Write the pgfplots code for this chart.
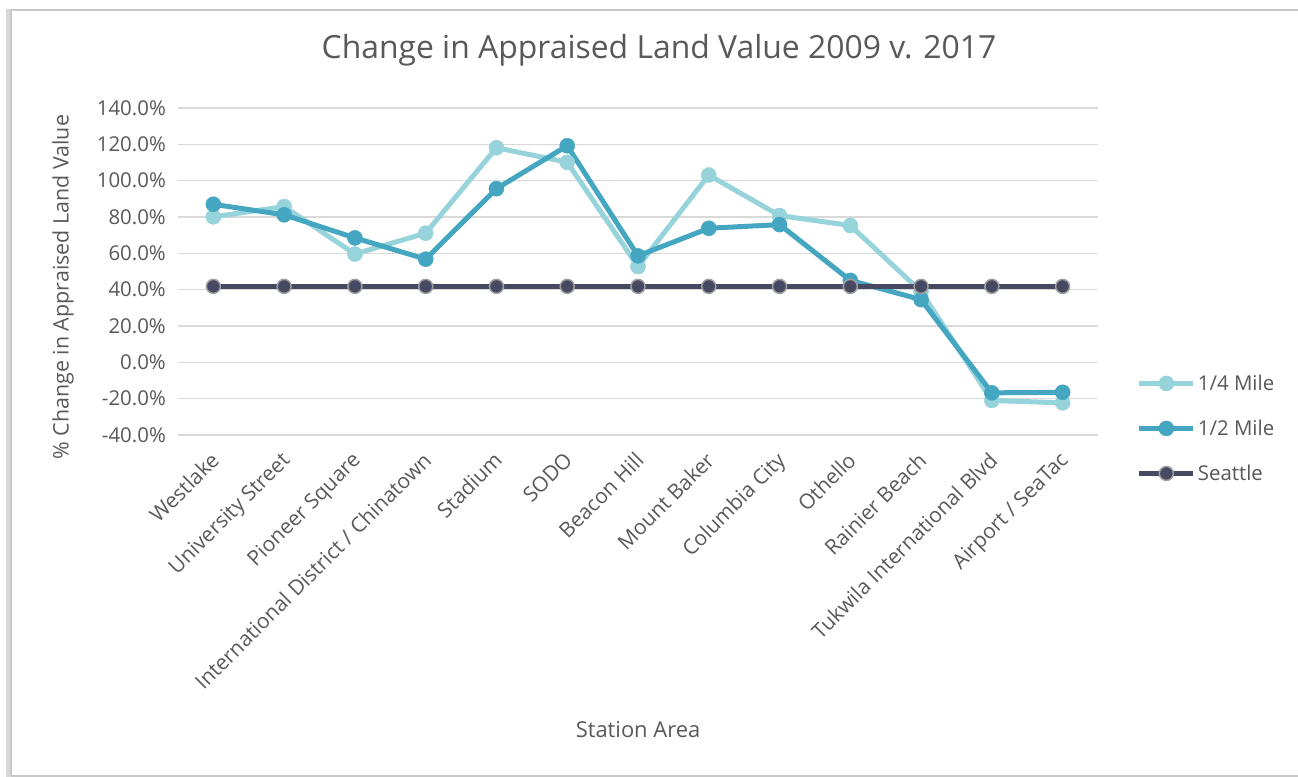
\documentclass[border=0pt]{standalone}
\usepackage{fontspec}
\setmainfont{Open Sans}
\usepackage{pgfplots}
\pgfplotsset{compat=1.18}
\definecolor{quarter}{HTML}{96D3DA}
\definecolor{half}{HTML}{44A6C0}
\definecolor{seattle}{HTML}{474862}
\definecolor{txt}{HTML}{595959}
\definecolor{gridc}{HTML}{D9D9D9}
\definecolor{framec}{HTML}{C8C8C8}
\begin{document}
\begin{tikzpicture}[x=1bp,y=1bp]
\useasboundingbox (0,0) rectangle (1298,777);
\fill[white] (0,0) rectangle (1298,777);
\fill[framec!70] (6,0) rectangle (12,768);
\draw[framec,line width=2bp] (11,1) -- (11,767) -- (1298,767);
\draw[framec,line width=2bp] (11,1) -- (1298,1);
\node[txt,font=\fontsize{32}{38}\selectfont] at (659,727) {Change in Appraised Land Value 2009 v. 2017};
\begin{axis}[
  at={(178bp,342bp)}, anchor=south west,
  scale only axis, width=920bp, height=327bp,
  xmin=-0.5, xmax=12.5, ymin=-40, ymax=140,
  ytick={-40,-20,...,140},
  yticklabel={\pgfmathprintnumber[fixed,fixed zerofill,precision=1]{\tick}\%},
  /pgf/number format/assume math mode=true,
  xtick={0,...,12},
  xticklabels={Westlake,University Street,Pioneer Square,International District / Chinatown,Stadium,SODO,Beacon Hill,Mount Baker,Columbia City,Othello,Rainier Beach,Tukwila International Blvd,Airport / SeaTac},
  xticklabel style={rotate=45, anchor=north east, inner sep=0pt, font=\fontsize{21}{24}\selectfont, xshift=-14bp, yshift=-8bp},
  yticklabel style={inner sep=0pt, xshift=-12bp},
  tick label style={txt, font=\fontsize{20.5}{24}\selectfont},
  axis line style={draw=none},
  major tick length=0pt,
  ymajorgrids, xmajorgrids=false, grid style={gridc, line width=1.6bp},
  xlabel={Station Area},
  xlabel style={txt, font=\fontsize{22}{26}\selectfont, at={(axis description cs:0.5,-0.901)}, anchor=center},
  ylabel={\% Change in Appraised Land Value},
  ylabel style={txt, font=\fontsize{21.5}{26}\selectfont, at={(axis description cs:-0.125,0.452)}, anchor=center, rotate=0},
  legend style={draw=none, fill=none, at={(1.042,0.02)}, anchor=west, font=\fontsize{20.5}{24}\selectfont, text=txt, row sep=24bp, inner sep=0pt},
  legend cell align=left,
  legend image code/.code={
    \draw[#1, line width=5bp] (0bp,0bp) -- (54bp,0bp);
    \draw[#1, only marks, mark=*] plot coordinates {(27bp,0bp)};
  },
  clip=false,
]
\addplot[quarter, line width=5bp, mark=*, mark size=7.5bp, mark options={fill=quarter, draw=quarter, line width=0.5bp}] coordinates {
(0,80.1) (1,85.7) (2,59.6) (3,71.1) (4,118.1) (5,110.1) (6,52.7) (7,103.1) (8,80.8) (9,75.3) (10,39.0) (11,-21.0) (12,-22.3)};
\addlegendentry{1/4 Mile}
\addplot[half, line width=5bp, mark=*, mark size=7.5bp, mark options={fill=half, draw=half, line width=0.5bp}] coordinates {
(0,87.0) (1,81.2) (2,68.5) (3,56.8) (4,95.6) (5,119.2) (6,58.6) (7,73.8) (8,75.8) (9,45.1) (10,34.5) (11,-16.8) (12,-16.5)};
\addlegendentry{1/2 Mile}
\addplot[seattle, line width=5bp, mark=*, mark size=7bp, mark options={fill=seattle, draw=gray!75, line width=1.5bp}] coordinates {
(0,41.8) (1,41.8) (2,41.8) (3,41.8) (4,41.8) (5,41.8) (6,41.8) (7,41.8) (8,41.8) (9,41.8) (10,41.8) (11,41.8) (12,41.8)};
\addlegendentry{Seattle}
\end{axis}
\end{tikzpicture}
\end{document}
